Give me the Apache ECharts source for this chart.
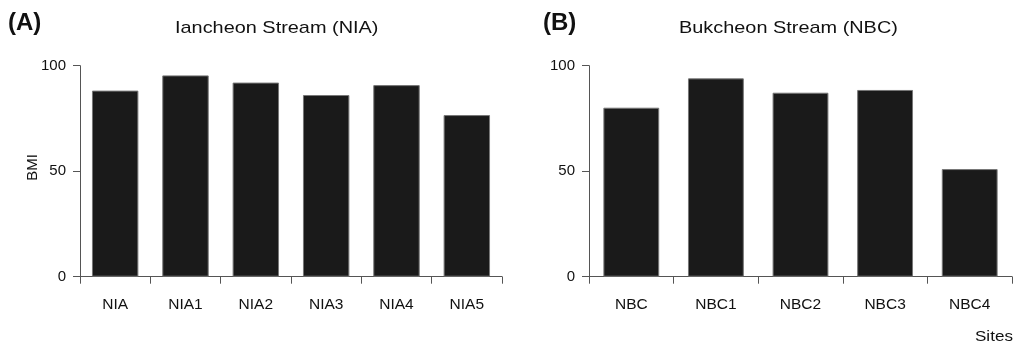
<!DOCTYPE html>
<html><head><meta charset="utf-8">
<script src="https://cdn.jsdelivr.net/npm/echarts@6/dist/echarts.min.js"></script>
<style>html,body{margin:0;padding:0;background:#fff}#c{width:1017px;height:350px}</style>
</head><body><div id="c"></div>
<script>
const sitesA = ['NIA','NIA1','NIA2','NIA3','NIA4','NIA5'];
const bmiA = [88.2, 95.4, 92.0, 86.1, 90.8, 76.6];
const sitesB = ['NBC','NBC1','NBC2','NBC3','NBC4'];
const bmiB = [80.1, 94.0, 87.2, 88.5, 51.0];
const yTicks = [0, 50, 100];

const FONT = 'Liberation Sans, Arial, sans-serif';
const axisColor = '#555';
const chart = echarts.init(document.getElementById('c'));

function xAxis(idx, data) {
  return {
    type: 'category', gridIndex: idx, data: data, boundaryGap: true,
    axisLine: {show: true, lineStyle: {color: axisColor, width: 1}},
    axisTick: {show: true, inside: false, length: 7, lineStyle: {color: axisColor}},
    axisLabel: {color: '#111', fontSize: 15.5, fontFamily: FONT, margin: 20},
    splitLine: {show: false}
  };
}
function yAxis(idx) {
  return {
    type: 'value', gridIndex: idx, min: yTicks[0], max: yTicks[yTicks.length - 1],
    interval: yTicks[1] - yTicks[0],
    axisLine: {show: true, lineStyle: {color: axisColor, width: 1}},
    axisTick: {show: true, inside: false, length: 7, lineStyle: {color: axisColor}},
    axisLabel: {color: '#111', fontSize: 15, fontFamily: FONT, margin: 14},
    splitLine: {show: false}
  };
}
const barStyle = {color: '#1a1a1a', borderColor: '#777', borderWidth: 1};

chart.setOption({
  animation: false,
  grid: [
    {left: 80, right: 515, top: 65.7, bottom: 73.3},
    {left: 589, right: 5, top: 65.7, bottom: 73.3}
  ],
  xAxis: [xAxis(0, sitesA), xAxis(1, sitesB)],
  yAxis: [yAxis(0), yAxis(1)],
  series: [
    {type: 'bar', xAxisIndex: 0, yAxisIndex: 0, data: bmiA, barCategoryGap: '34%', itemStyle: barStyle},
    {type: 'bar', xAxisIndex: 1, yAxisIndex: 1, data: bmiB, barCategoryGap: '34%', itemStyle: barStyle}
  ],
  graphic: [
    {type: 'text', x: 8, y: 11, style: {text: '(A)', font: 'bold 24px ' + FONT, fill: '#111'}},
    {type: 'text', x: 543, y: 11, style: {text: '(B)', font: 'bold 24px ' + FONT, fill: '#111'}},
    {type: 'text', x: 175, y: 20, scaleX: 1.17, style: {text: 'Iancheon Stream (NIA)', font: '17px ' + FONT, fill: '#111'}},
    {type: 'text', x: 679, y: 20, scaleX: 1.17, style: {text: 'Bukcheon Stream (NBC)', font: '17px ' + FONT, fill: '#111'}},
    {type: 'text', x: 32.5, y: 167.5, rotation: Math.PI / 2, style: {text: 'BMI', font: '15px ' + FONT, fill: '#111', align: 'center', verticalAlign: 'middle'}},
    {type: 'text', x: 975, y: 329, scaleX: 1.1, style: {text: 'Sites', font: '15.5px ' + FONT, fill: '#111'}}
  ]
});
</script></body></html>
